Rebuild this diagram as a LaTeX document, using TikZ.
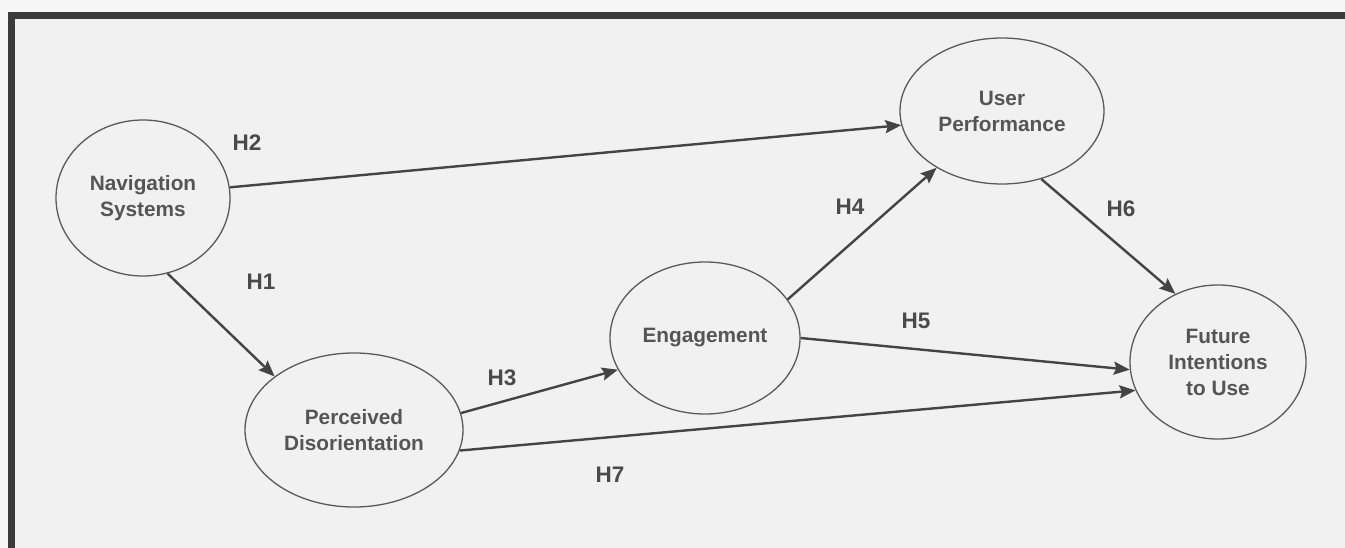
\documentclass[tikz,border=0pt]{standalone}
\usepackage{fontspec}
\setmainfont{Liberation Sans}
\usetikzlibrary{shapes.geometric,arrows.meta}
\definecolor{bgout}{HTML}{F7F7F7}
\definecolor{bgin}{HTML}{F1F1F1}
\definecolor{frame}{HTML}{3A3A3A}
\definecolor{txt}{HTML}{555555}
\definecolor{lbl}{HTML}{4A4A4A}
\definecolor{ln}{HTML}{444444}
\definecolor{el}{HTML}{5A5A5A}
\tikzset{
  construct/.style={ellipse, draw=el, line width=1.3pt, inner sep=0pt, align=center,
    text=txt, font=\fontsize{20.8}{26}\selectfont\bfseries},
  hyp/.style={text=lbl, font=\fontsize{22.5}{26}\selectfont\bfseries, inner sep=0pt},
  link/.style={draw=ln, line width=2.4pt, -{Stealth[length=16pt,width=13pt,inset=2.5pt]}}
}
\begin{document}
\begin{tikzpicture}[x=1pt,y=-1pt]
\fill[bgout] (0,0) rectangle (1345,548);
\fill[bgin] (15,19) rectangle (1345,548);
\useasboundingbox (0,0) rectangle (1345,548);
\draw[frame, line width=7pt] (8,15.5) -- (1345,15.5);
\draw[frame, line width=7pt] (11.5,12) -- (11.5,548);

\node[construct, minimum width=174pt, minimum height=156pt] (nav) at (143,198) {Navigation\\Systems};
\node[construct, minimum width=218pt, minimum height=154pt] (pd) at (354,430) {Perceived\\Disorientation};
\node[construct, minimum width=190pt, minimum height=152pt] (eng) at (705,338) {Engagement};
\node[construct, minimum width=204pt, minimum height=146pt] (up) at (1002,111) {User\\Performance};
\node[construct, minimum width=176pt, minimum height=154pt] (fi) at (1218,362) {Future\\Intentions\\to Use};

\draw[link] (nav.7) -- (up.188);
\draw[link] (nav.-72) -- (pd.146);
\draw[link] (pd.9) -- (eng.200);
\draw[link] (pd.-11) -- (fi.199);
\draw[link] (eng.25) -- (up.221);
\draw[link] (eng.0) -- (fi.185);
\draw[link] (up.-60) -- (fi.122);

\node[hyp] (h2) at (247,143) {H2};
\node[hyp] (h1) at (261,282) {H1};
\node[hyp] (h3) at (502,378) {H3};
\node[hyp] (h7) at (610,475) {H7};
\node[hyp] (h4) at (850,207) {H4};
\node[hyp] (h5) at (916,321) {H5};
\node[hyp] (h6) at (1121,209) {H6};
\end{tikzpicture}
\end{document}
